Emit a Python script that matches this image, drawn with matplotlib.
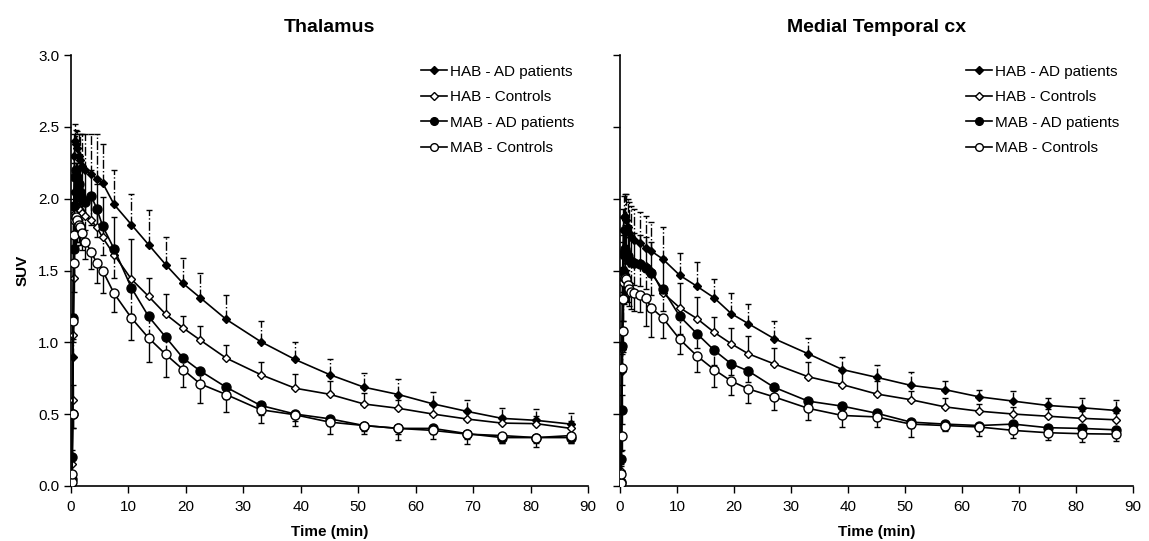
import matplotlib
matplotlib.use('Agg')
import matplotlib.pyplot as plt
import numpy as np

plt.rcParams['font.family'] = ['Liberation Sans', 'DejaVu Sans']

# frame mid times (min)
time = [0.1, 0.2, 0.3, 0.4, 0.5, 0.6, 0.75, 0.9, 1.1, 1.35, 1.65, 2.0, 2.5,
        3.5, 4.5, 5.5, 7.5, 10.5, 13.5, 16.5, 19.5, 22.5, 27, 33, 39, 45,
        51, 57, 63, 69, 75, 81, 87]

series_names = ['HAB - AD patients', 'HAB - Controls', 'MAB - AD patients', 'MAB - Controls']

# Thalamus
thal_hab_ad = [0.02, 0.2, 0.9, 1.65, 2.05, 2.3, 2.4, 2.38, 2.35, 2.3, 2.27, 2.23, 2.2,
               2.17, 2.14, 2.11, 1.96, 1.82, 1.68, 1.54, 1.41, 1.31, 1.16, 1.005, 0.88, 0.775,
               0.687, 0.636, 0.571, 0.518, 0.47, 0.456, 0.43]
thal_hab_ct = [0.01, 0.15, 0.6, 1.05, 1.45, 1.75, 1.9, 1.95, 1.95, 1.93, 1.92, 1.9, 1.88,
               1.85, 1.80, 1.73, 1.61, 1.44, 1.32, 1.195, 1.10, 1.015, 0.89, 0.775, 0.68, 0.638,
               0.57, 0.54, 0.50, 0.465, 0.437, 0.433, 0.40]
thal_mab_ad = [0.05, 0.2, 0.5, 1.17, 1.65, 1.95, 2.15, 2.2, 2.15, 2.1, 2.05, 2.0, 1.98,
               2.02, 1.93, 1.81, 1.65, 1.38, 1.18, 1.035, 0.89, 0.80, 0.687, 0.56, 0.50, 0.467,
               0.42, 0.40, 0.40, 0.363, 0.336, 0.336, 0.336]
thal_mab_ct = [0.03, 0.08, 0.5, 1.15, 1.55, 1.75, 1.85, 1.87, 1.85, 1.82, 1.8, 1.76, 1.70,
               1.63, 1.55, 1.50, 1.34, 1.17, 1.03, 0.915, 0.81, 0.71, 0.636, 0.53, 0.495, 0.444,
               0.42, 0.40, 0.386, 0.36, 0.35, 0.336, 0.35]
thal_hab_ad_err = [0.01, 0.05, 0.15, 0.2, 0.2, 0.15, 0.12, 0.1, 0.12, 0.15, 0.18, 0.22, 0.25,
                   0.28, 0.31, 0.27, 0.24, 0.21, 0.24, 0.19, 0.18, 0.17, 0.17, 0.14, 0.12, 0.11,
                   0.10, 0.11, 0.08, 0.08, 0.07, 0.08, 0.08]
thal_hab_ct_err = [0.01, 0.05, 0.1, 0.15, 0.2, 0.25, 0.3, 0.3, 0.3, 0.3, 0.3, 0.3, 0.32,
                   0.35, 0.3, 0.28, 0.26, 0.28, 0.13, 0.14, 0.08, 0.10, 0.09, 0.085, 0.10, 0.09,
                   0.075, 0.06, 0.06, 0.05, 0.05, 0.05, 0.05]
thal_mab_ad_err = [0.02, 0.05, 0.1, 0.15, 0.2, 0.2, 0.2, 0.2, 0.2, 0.2, 0.2, 0.2, 0.2,
                   0.2, 0.2, 0.2, 0.2, 0.18, 0.15, 0.12, 0.1, 0.1, 0.08, 0.07, 0.05, 0.05,
                   0.04, 0.04, 0.04, 0.04, 0.04, 0.04, 0.04]
thal_mab_ct_err = [0.02, 0.05, 0.1, 0.15, 0.2, 0.2, 0.2, 0.2, 0.15, 0.12, 0.12, 0.12, 0.12,
                   0.12, 0.14, 0.16, 0.13, 0.155, 0.17, 0.155, 0.12, 0.13, 0.12, 0.09, 0.08, 0.085,
                   0.06, 0.08, 0.06, 0.07, 0.05, 0.065, 0.05]

# Medial temporal cortex
mtc_hab_ad = [0.02, 0.19, 0.8, 1.3, 1.6, 1.78, 1.87, 1.88, 1.85, 1.8, 1.76, 1.73, 1.71,
              1.69, 1.66, 1.635, 1.58, 1.466, 1.39, 1.31, 1.20, 1.13, 1.026, 0.92, 0.81, 0.756,
              0.70, 0.67, 0.62, 0.59, 0.56, 0.544, 0.525]
mtc_hab_ct = [0.01, 0.1, 0.53, 0.95, 1.3, 1.5, 1.6, 1.62, 1.6, 1.58, 1.57, 1.56, 1.56,
              1.55, 1.53, 1.50, 1.345, 1.24, 1.165, 1.07, 0.99, 0.92, 0.85, 0.76, 0.705, 0.64,
              0.60, 0.55, 0.52, 0.50, 0.485, 0.47, 0.46]
mtc_mab_ad = [0.03, 0.19, 0.53, 0.975, 1.3, 1.5, 1.62, 1.65, 1.62, 1.6, 1.57, 1.56, 1.55,
              1.545, 1.52, 1.48, 1.37, 1.18, 1.06, 0.945, 0.85, 0.80, 0.687, 0.59, 0.555, 0.506,
              0.444, 0.43, 0.42, 0.43, 0.405, 0.40, 0.39]
mtc_mab_ct = [0.02, 0.08, 0.35, 0.82, 1.08, 1.3, 1.42, 1.45, 1.44, 1.4, 1.37, 1.35, 1.34,
              1.33, 1.31, 1.24, 1.17, 1.02, 0.905, 0.81, 0.73, 0.675, 0.62, 0.54, 0.49, 0.48,
              0.43, 0.42, 0.41, 0.386, 0.37, 0.363, 0.36]
mtc_hab_ad_err = [0.01, 0.05, 0.12, 0.15, 0.15, 0.15, 0.15, 0.15, 0.18, 0.2, 0.22, 0.22, 0.22,
                  0.22, 0.22, 0.2, 0.22, 0.155, 0.17, 0.13, 0.14, 0.135, 0.12, 0.11, 0.09, 0.084,
                  0.09, 0.06, 0.05, 0.07, 0.05, 0.066, 0.075]
mtc_hab_ct_err = [0.01, 0.05, 0.1, 0.15, 0.15, 0.2, 0.2, 0.2, 0.2, 0.2, 0.2, 0.2, 0.2,
                  0.2, 0.2, 0.2, 0.25, 0.175, 0.15, 0.107, 0.11, 0.125, 0.11, 0.10, 0.1, 0.09,
                  0.06, 0.06, 0.05, 0.05, 0.05, 0.05, 0.05]
mtc_mab_ad_err = [0.02, 0.05, 0.1, 0.15, 0.15, 0.15, 0.15, 0.15, 0.15, 0.15, 0.15, 0.15, 0.15,
                  0.15, 0.15, 0.15, 0.15, 0.12, 0.1, 0.1, 0.08, 0.08, 0.07, 0.06, 0.05, 0.05,
                  0.04, 0.04, 0.04, 0.04, 0.04, 0.04, 0.04]
mtc_mab_ct_err = [0.02, 0.05, 0.1, 0.12, 0.15, 0.15, 0.15, 0.15, 0.15, 0.12, 0.12, 0.12, 0.12,
                  0.12, 0.2, 0.2, 0.14, 0.1, 0.11, 0.12, 0.1, 0.1, 0.09, 0.08, 0.08, 0.07,
                  0.09, 0.04, 0.06, 0.05, 0.05, 0.06, 0.05]

panels = [
    ('Thalamus', [thal_hab_ad, thal_hab_ct, thal_mab_ad, thal_mab_ct],
     [thal_hab_ad_err, thal_hab_ct_err, thal_mab_ad_err, thal_mab_ct_err]),
    ('Medial Temporal cx', [mtc_hab_ad, mtc_hab_ct, mtc_mab_ad, mtc_mab_ct],
     [mtc_hab_ad_err, mtc_hab_ct_err, mtc_mab_ad_err, mtc_mab_ct_err]),
]

# marker, facecolor, marker size, error direction, error linestyle
styles = [
    ('D', 'black', 4.5, 'up', '-.'),
    ('D', 'white', 4.5, 'up', '-'),
    ('o', 'black', 6.5, 'down', '-.'),
    ('o', 'white', 6.5, 'down', '-'),
]

fig = plt.figure(figsize=(11.49, 5.41), dpi=100)
ax1 = fig.add_axes([0.0618, 0.102, 0.45, 0.796])
ax2 = fig.add_axes([0.5396, 0.102, 0.4465, 0.796])

t = np.array(time)
for ax, (title, data, errs) in zip([ax1, ax2], panels):
    for name, y, e, (mk, fc, ms, direction, els) in zip(series_names, data, errs, styles):
        y = np.array(y)
        e = np.array(e)
        zero = np.zeros_like(e)
        yerr = [zero, e] if direction == 'up' else [e, zero]
        eb = ax.errorbar(t, y, yerr=yerr, fmt='none', ecolor='black', elinewidth=1.0,
                         capsize=2.5, capthick=1.0, zorder=2)
        for lc in eb[2]:
            lc.set_linestyle(els)
        ax.plot(t, y, color='black', lw=1.2, marker=mk, markersize=ms,
                markerfacecolor=fc, markeredgecolor='black', markeredgewidth=1.0,
                label=name, zorder=3)

    ax.set_xlim(0, 90)
    ax.set_ylim(0, 3.0)
    ax.set_xticks(range(0, 91, 10))
    ax.set_yticks(np.arange(0, 3.01, 0.5))
    ax.spines['top'].set_visible(False)
    ax.spines['right'].set_visible(False)
    ax.spines['left'].set_linewidth(1.2)
    ax.spines['bottom'].set_linewidth(1.2)
    ax.tick_params(direction='out', length=5, width=1, labelsize=11)
    ax.tick_params(axis='x', pad=5)
    ax.set_title(title, fontsize=14, fontweight='bold', pad=17)
    ax.set_xlabel('Time (min)', fontsize=11, fontweight='bold', labelpad=8)
    ax.legend(loc='upper right', bbox_to_anchor=(1.0, 1.01), frameon=False, fontsize=11,
              handlelength=1.7, handletextpad=0.2, labelspacing=0.75, markerscale=0.85)

ax1.set_yticklabels(['%.1f' % v for v in np.arange(0, 3.01, 0.5)])
ax1.set_ylabel('SUV', fontsize=11, fontweight='bold', labelpad=6)
ax2.set_yticklabels([])

plt.savefig('out.png', dpi=100, facecolor='white')
plt.close()
